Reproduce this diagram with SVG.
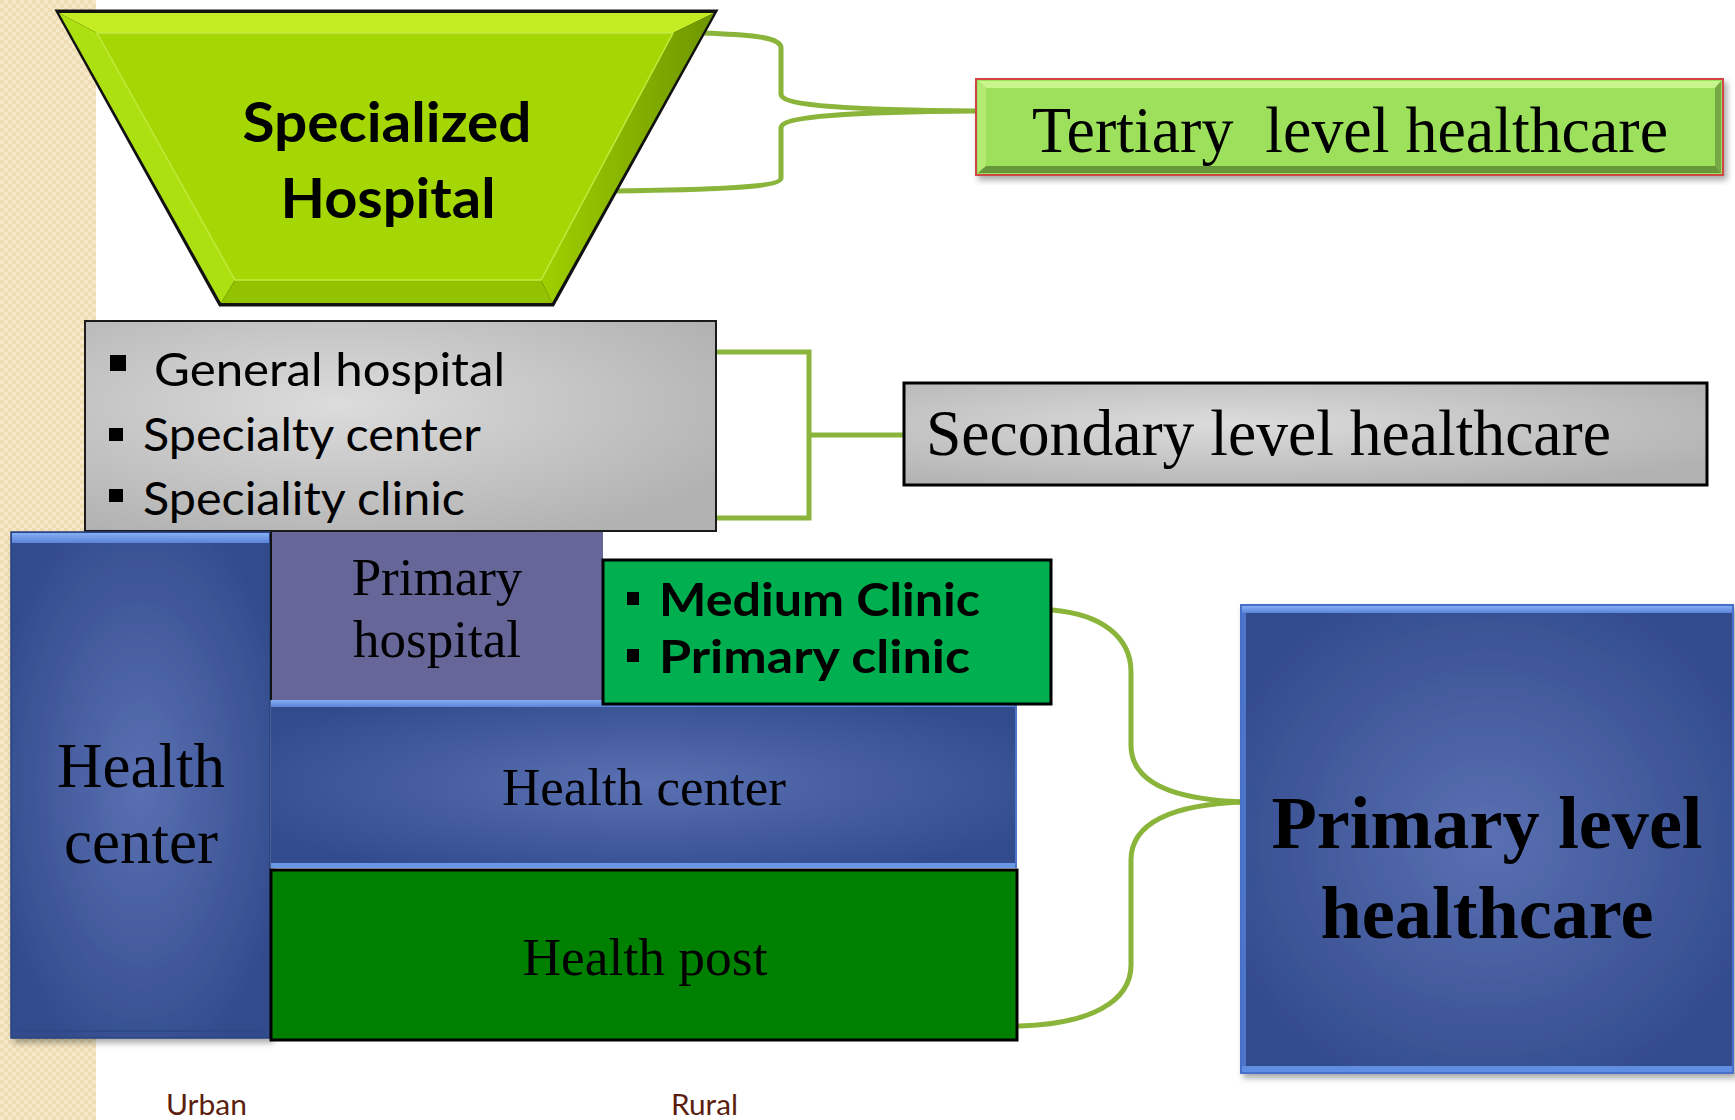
<svg xmlns="http://www.w3.org/2000/svg" width="1735" height="1120" viewBox="0 0 1735 1120">
<style>
.serif{font-family:"Liberation Serif","Times New Roman",serif;fill:#000}
.sans{font-family:"Lato","Liberation Sans",sans-serif;fill:#000}
.b{font-weight:bold}
.conn{fill:none;stroke:#8ab43a;stroke-width:5;stroke-linecap:round}
</style>
<defs>
<pattern id="chk" width="8" height="8" patternUnits="userSpaceOnUse">
<rect width="8" height="8" fill="#f6e8c8"/>
<rect width="4" height="4" fill="#eedcb2"/>
<rect x="4" y="4" width="4" height="4" fill="#eedcb2"/>
</pattern>
<radialGradient id="gray" cx="40%" cy="40%" r="70%">
<stop offset="0" stop-color="#dcdcdc"/>
<stop offset="1" stop-color="#b2b2b2"/>
</radialGradient>
<radialGradient id="blue" cx="50%" cy="50%" r="60%">
<stop offset="0" stop-color="#5a70b2"/>
<stop offset="1" stop-color="#314b8c"/>
</radialGradient>
<linearGradient id="bevTop" x1="0" y1="0" x2="0" y2="1">
<stop offset="0" stop-color="#86aef5"/>
<stop offset="1" stop-color="#5a84d8"/>
</linearGradient>
<linearGradient id="rightFacet" x1="1" y1="0" x2="0" y2="0">
<stop offset="0" stop-color="#6e9600"/>
<stop offset="1" stop-color="#a0d000"/>
</linearGradient>
<filter id="sh" x="-5%" y="-5%" width="115%" height="115%">
<feDropShadow dx="3" dy="4" stdDeviation="3" flood-color="#000" flood-opacity="0.35"/>
</filter>
</defs>

<rect width="1735" height="1120" fill="#fff"/>
<rect x="0" y="0" width="96" height="1120" fill="url(#chk)"/>

<g id="connectors">
<path class="conn" d="M704,33 C745,35 781,36 781,48 L781,94 C781,106 850,110 976,111 C850,112 781,116 781,128 L781,178 C781,188 700,190 617,191"/>
<path class="conn" style="stroke-linecap:butt" d="M716,352 H809 V518 H716 M809,435 H904"/>
<path class="conn" d="M1052,610 C1100,614 1131,636 1131,672 L1131,745 C1131,782 1170,800 1246,802 C1170,804 1131,824 1131,860 L1131,965 C1131,1002 1090,1024 1019,1026"/>
</g>

<g id="specialized-hospital">
<polygon points="57,11 716,11 553,305 220,305" fill="#1a1a1a" stroke="#111" stroke-width="3"/>
<polygon points="59,13 714,13 673,33 97,33" fill="#c4ec22"/>
<polygon points="59,13 97,33 235,280 221,303" fill="#ace010"/>
<polygon points="714,13 552,303 541,280 673,33" fill="url(#rightFacet)"/>
<polygon points="221,303 235,280 541,280 552,303" fill="#92c200"/>
<polygon points="97,33 673,33 541,280 235,280" fill="#a5d704" stroke="#c2ea3c" stroke-width="1.5"/>
<text class="sans b" x="387" y="142" font-size="56" text-anchor="middle" textLength="289" lengthAdjust="spacingAndGlyphs">Specialized</text>
<text class="sans b" x="388" y="218" font-size="56" text-anchor="middle" textLength="215" lengthAdjust="spacingAndGlyphs">Hospital</text>
</g>

<g id="tertiary-level" filter="url(#sh)">
<rect x="976" y="79" width="747" height="96" fill="#9de05b" stroke="#d04545" stroke-width="2"/>
<polygon points="978,81 1721,81 1715,88 986,88" fill="#c8f58c"/>
<polygon points="978,81 986,88 986,166 978,173" fill="#b2ea72"/>
<polygon points="1721,81 1721,173 1715,166 1715,88" fill="#76a844"/>
<polygon points="978,173 986,166 1715,166 1721,173" fill="#68963a"/>
<text class="serif" x="1350" y="152" font-size="66" text-anchor="middle" textLength="636" lengthAdjust="spacingAndGlyphs" xml:space="preserve">Tertiary  level healthcare</text>
</g>

<g id="secondary-list">
<rect x="85" y="321" width="631" height="210" fill="url(#gray)" stroke="#1a1a1a" stroke-width="2"/>
<rect x="110" y="355" width="16" height="16" fill="#000"/>
<rect x="109" y="428" width="14" height="13" fill="#000"/>
<rect x="109" y="489" width="14" height="13" fill="#000"/>
<text class="sans" x="154" y="386" font-size="47" textLength="351" lengthAdjust="spacingAndGlyphs">General hospital</text>
<text class="sans" x="143" y="451" font-size="47" textLength="338" lengthAdjust="spacingAndGlyphs">Specialty center</text>
<text class="sans" x="143" y="515" font-size="47" textLength="322" lengthAdjust="spacingAndGlyphs">Speciality clinic</text>
</g>

<g id="secondary-level">
<rect x="904" y="383" width="803" height="102" fill="url(#gray)" stroke="#000" stroke-width="3"/>
<text class="serif" x="926" y="455" font-size="66" textLength="685" lengthAdjust="spacingAndGlyphs">Secondary level healthcare</text>
</g>

<g id="health-center-urban" filter="url(#sh)">
<rect x="11" y="532" width="259" height="506" fill="url(#blue)" stroke="#2a4280" stroke-width="1.5"/>
<rect x="12" y="533" width="257" height="10" fill="url(#bevTop)"/>
<line x1="18" y1="1031" x2="263" y2="1031" stroke="#2e4888" stroke-width="2"/>
<text class="serif" x="141" y="787" font-size="63" text-anchor="middle">Health</text>
<text class="serif" x="141" y="863" font-size="63" text-anchor="middle">center</text>
</g>

<g id="primary-hospital">
<rect x="271" y="532" width="332" height="168" fill="#666699"/>
<line x1="271" y1="532" x2="271" y2="700" stroke="#111" stroke-width="2"/>
<text class="serif" x="437" y="595" font-size="53" text-anchor="middle">Primary</text>
<text class="serif" x="437" y="657" font-size="53" text-anchor="middle">hospital</text>
</g>

<g id="health-center-rural">
<rect x="271" y="700" width="746" height="168" fill="url(#blue)"/>
<rect x="271" y="700" width="746" height="7" fill="url(#bevTop)"/>
<rect x="271" y="863" width="746" height="5" fill="#6a98e8"/>
<line x1="1016" y1="700" x2="1016" y2="868" stroke="#4f74c4" stroke-width="2"/>
<text class="serif" x="644" y="805" font-size="52" text-anchor="middle" textLength="284" lengthAdjust="spacingAndGlyphs">Health center</text>
</g>

<g id="clinics">
<rect x="603" y="560" width="448" height="144" fill="#00b050" stroke="#000" stroke-width="3"/>
<rect x="627" y="592" width="12" height="13" fill="#000"/>
<rect x="627" y="649" width="12" height="13" fill="#000"/>
<text class="sans b" x="659" y="616" font-size="46" textLength="321" lengthAdjust="spacingAndGlyphs">Medium Clinic</text>
<text class="sans b" x="659" y="673" font-size="46" textLength="311" lengthAdjust="spacingAndGlyphs">Primary clinic</text>
</g>

<g id="health-post">
<rect x="271" y="870" width="746" height="170" fill="#008000" stroke="#000" stroke-width="3"/>
<text class="serif" x="645" y="975" font-size="53" text-anchor="middle" textLength="245" lengthAdjust="spacingAndGlyphs">Health post</text>
</g>

<g id="primary-level" filter="url(#sh)">
<rect x="1241" y="605" width="492" height="468" fill="url(#blue)" stroke="#4a70c8" stroke-width="2"/>
<rect x="1242" y="606" width="490" height="7" fill="url(#bevTop)"/>
<rect x="1242" y="1066" width="490" height="6" fill="#5f8ee2"/>
<rect x="1242" y="613" width="4" height="453" fill="#4e74cc"/>
<text class="serif b" x="1487" y="848" font-size="75" text-anchor="middle" textLength="431" lengthAdjust="spacingAndGlyphs">Primary level</text>
<text class="serif b" x="1487" y="938" font-size="75" text-anchor="middle" textLength="333" lengthAdjust="spacingAndGlyphs">healthcare</text>
</g>

<g id="axis-labels">
<text class="sans" x="166" y="1115" font-size="28" style="fill:#5c1f0f" textLength="81" lengthAdjust="spacingAndGlyphs">Urban</text>
<text class="sans" x="671" y="1115" font-size="28" style="fill:#5c1f0f" textLength="67" lengthAdjust="spacingAndGlyphs">Rural</text>
</g>
</svg>
